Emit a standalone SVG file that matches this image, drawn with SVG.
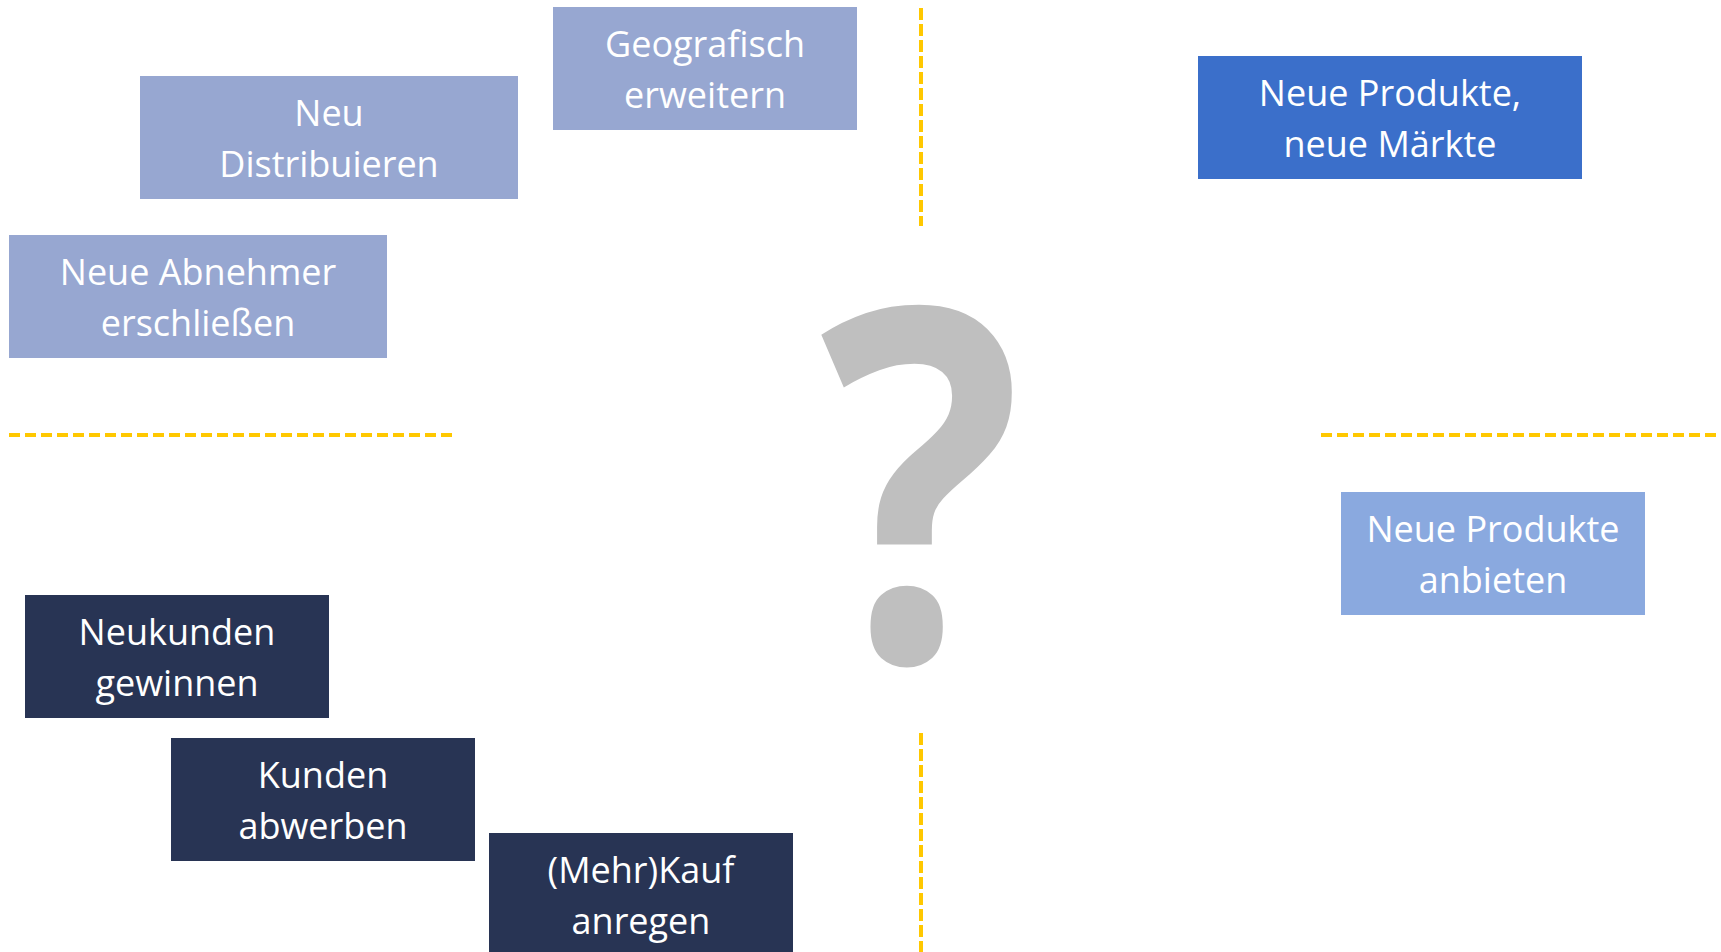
<svg xmlns="http://www.w3.org/2000/svg" width="1721" height="952" viewBox="0 0 1721 952">
<style>
.lbl{font-family:"Open Sans","Noto Sans","Liberation Sans",sans-serif;font-size:36px;fill:#ffffff;text-anchor:middle}
.p{fill:#97A7D1}
.b{fill:#3B6FCA}
.lb{fill:#8AA9DF}
.n{fill:#283454}
.dv{stroke:#FFC800;stroke-width:4;stroke-dasharray:12 4;fill:none}
.dh{stroke:#FFC800;stroke-width:4;stroke-dasharray:11 5;fill:none}
.q{font-family:"Open Sans","Noto Sans","Liberation Sans",sans-serif;font-weight:700;font-size:492px;fill:#BFBFBF;text-anchor:middle}
</style>
<rect width="1721" height="952" fill="#ffffff"/>
<g id="connectors">
<line class="dv" x1="921" y1="8" x2="921" y2="226"/>
<line class="dv" x1="921" y1="733" x2="921" y2="952"/>
<line class="dh" x1="9" y1="435" x2="453" y2="435"/>
<line class="dh" x1="1321" y1="435" x2="1721" y2="435"/>
</g>
<g id="question">
<text class="q" x="0" y="0" transform="translate(921,661) scale(0.86,1)">?</text>
</g>
<g id="geografisch">
<rect class="p" x="553" y="7" width="304" height="123"/>
<text class="lbl" x="705" y="57">Geografisch</text>
<text class="lbl" x="705" y="108">erweitern</text>
</g>
<g id="neu-distribuieren">
<rect class="p" x="140" y="76" width="378" height="123"/>
<text class="lbl" x="329" y="126">Neu</text>
<text class="lbl" x="329" y="177">Distribuieren</text>
</g>
<g id="neue-abnehmer">
<rect class="p" x="9" y="235" width="378" height="123"/>
<text class="lbl" x="198" y="285">Neue Abnehmer</text>
<text class="lbl" x="198" y="336">erschließen</text>
</g>
<g id="neue-produkte-maerkte">
<rect class="b" x="1198" y="56" width="384" height="123"/>
<text class="lbl" x="1390" y="106">Neue Produkte,</text>
<text class="lbl" x="1390" y="157">neue Märkte</text>
</g>
<g id="neue-produkte-anbieten">
<rect class="lb" x="1341" y="492" width="304" height="123"/>
<text class="lbl" x="1493" y="542">Neue Produkte</text>
<text class="lbl" x="1493" y="593">anbieten</text>
</g>
<g id="neukunden">
<rect class="n" x="25" y="595" width="304" height="123"/>
<text class="lbl" x="177" y="645">Neukunden</text>
<text class="lbl" x="177" y="696">gewinnen</text>
</g>
<g id="kunden-abwerben">
<rect class="n" x="171" y="738" width="304" height="123"/>
<text class="lbl" x="323" y="788">Kunden</text>
<text class="lbl" x="323" y="839">abwerben</text>
</g>
<g id="mehrkauf">
<rect class="n" x="489" y="833" width="304" height="123"/>
<text class="lbl" x="641" y="883">(Mehr)Kauf</text>
<text class="lbl" x="641" y="934">anregen</text>
</g>
</svg>
